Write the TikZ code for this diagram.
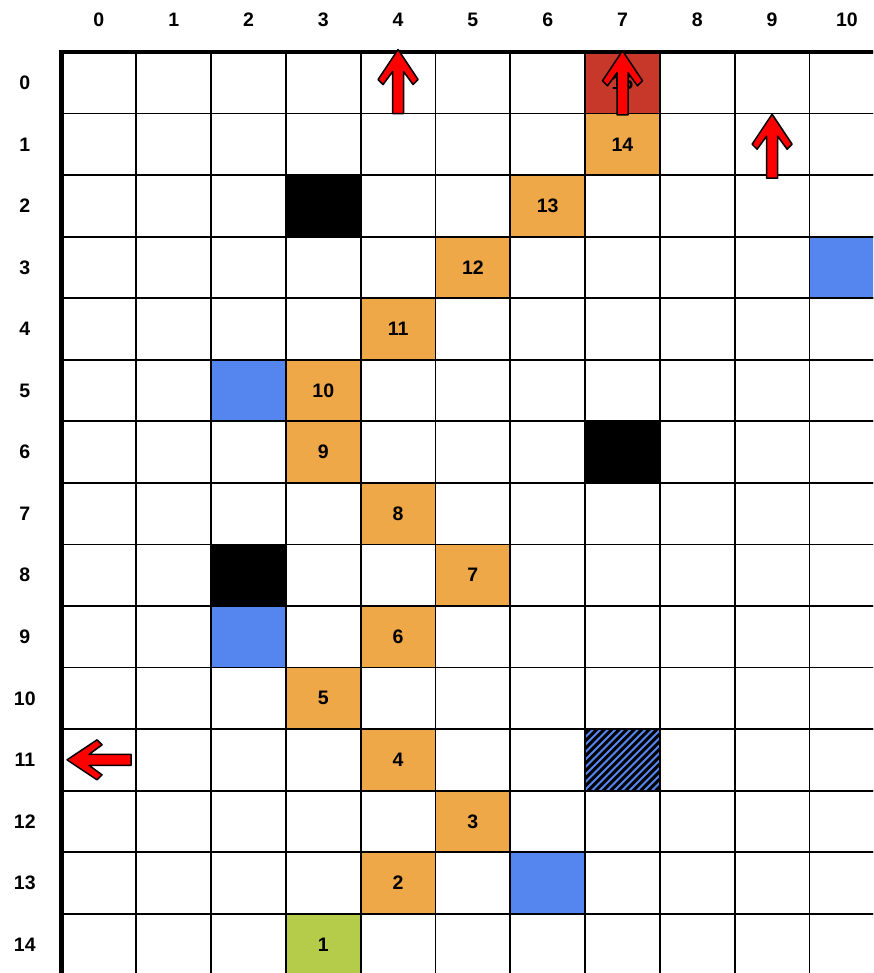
\documentclass[tikz,border=0pt]{standalone}
\usepackage{fontspec}
\setmainfont{Liberation Sans}
\definecolor{pathorange}{RGB}{238,168,72}
\definecolor{goalred}{RGB}{200,56,42}
\definecolor{wallblue}{RGB}{85,133,238}
\definecolor{startgreen}{RGB}{180,204,74}
\tikzset{exitarrow/.pic={\draw[draw=black, fill=red, line width=1.5pt, line join=round] (-5.5pt,0pt) -- (-5.5pt,42pt) -- (-15pt,29pt) -- (-20pt,34pt) -- (0pt,64pt) -- (20pt,34pt) -- (15pt,29pt) -- (5.5pt,42pt) -- (5.5pt,0pt) -- cycle;}}

\begin{document}
\begin{tikzpicture}[x=74.8pt, y=-61.55pt, every node/.style={font=\fontsize{19.5}{22}\selectfont\bfseries},
  cell/.style={draw, line width=1.8pt, minimum width=74.8pt, minimum height=61.55pt, inner sep=0pt, outer sep=0pt}]
\path[use as bounding box] (-0.822,-0.845) rectangle (10.849,14.963);
\clip (-0.822,-0.845) rectangle (10.849,14.963);

% headers
\foreach \c in {0,...,10} \node (col\c) at (\c+0.5,-0.52) {\c};
\foreach \r in {0,...,14} \node (row\r) at (-0.49,\r+0.5) {\r};

% empty board
\foreach \c in {0,...,10} \foreach \r in {0,...,14} \node[cell] (c\c-\r) at (\c+0.5,\r+0.5) {};

% path
\foreach \c/\r/\n in {7/1/14, 6/2/13, 5/3/12, 4/4/11, 3/5/10, 3/6/9, 4/7/8, 5/8/7, 4/9/6, 3/10/5, 4/11/4, 5/12/3, 4/13/2}
  \node[cell, fill=pathorange] (step\n) at (\c+0.5,\r+0.5) {\n};
\node[cell, fill=startgreen] (start) at (3.5,14.5) {1};
\node[cell, fill=goalred] (goal) at (7.5,0.5) {15};

% walls and water
\foreach \c/\r in {3/2, 7/6, 2/8} \node[cell, fill=black] (wall\c-\r) at (\c+0.5,\r+0.5) {};
\foreach \c/\r in {10/3, 2/5, 2/9, 6/13} \node[cell, fill=wallblue] (water\c-\r) at (\c+0.5,\r+0.5) {};
\node[cell, fill=wallblue] (hatch) at (7.5,11.5) {};
\begin{scope}
\clip (hatch.south west) rectangle (hatch.north east);
\foreach \i in {-72,-64.5,...,78} \draw[line width=3pt] ([xshift=\i pt]hatch.south west) -- ++(70pt,70pt);
\end{scope}
\draw[line width=1.8pt] (hatch.south west) rectangle (hatch.north east);

% outer frame
\draw[line width=4.5pt] (0,15) -- (0,0) -- (11,0);

% exits
\pic at (4.5,1) {exitarrow};
\pic at (7.5,1.02) {exitarrow};
\pic at (9.5,2.05) {exitarrow};
\pic[rotate=90] at (0.93,11.5) {exitarrow};
\end{tikzpicture}
\end{document}
